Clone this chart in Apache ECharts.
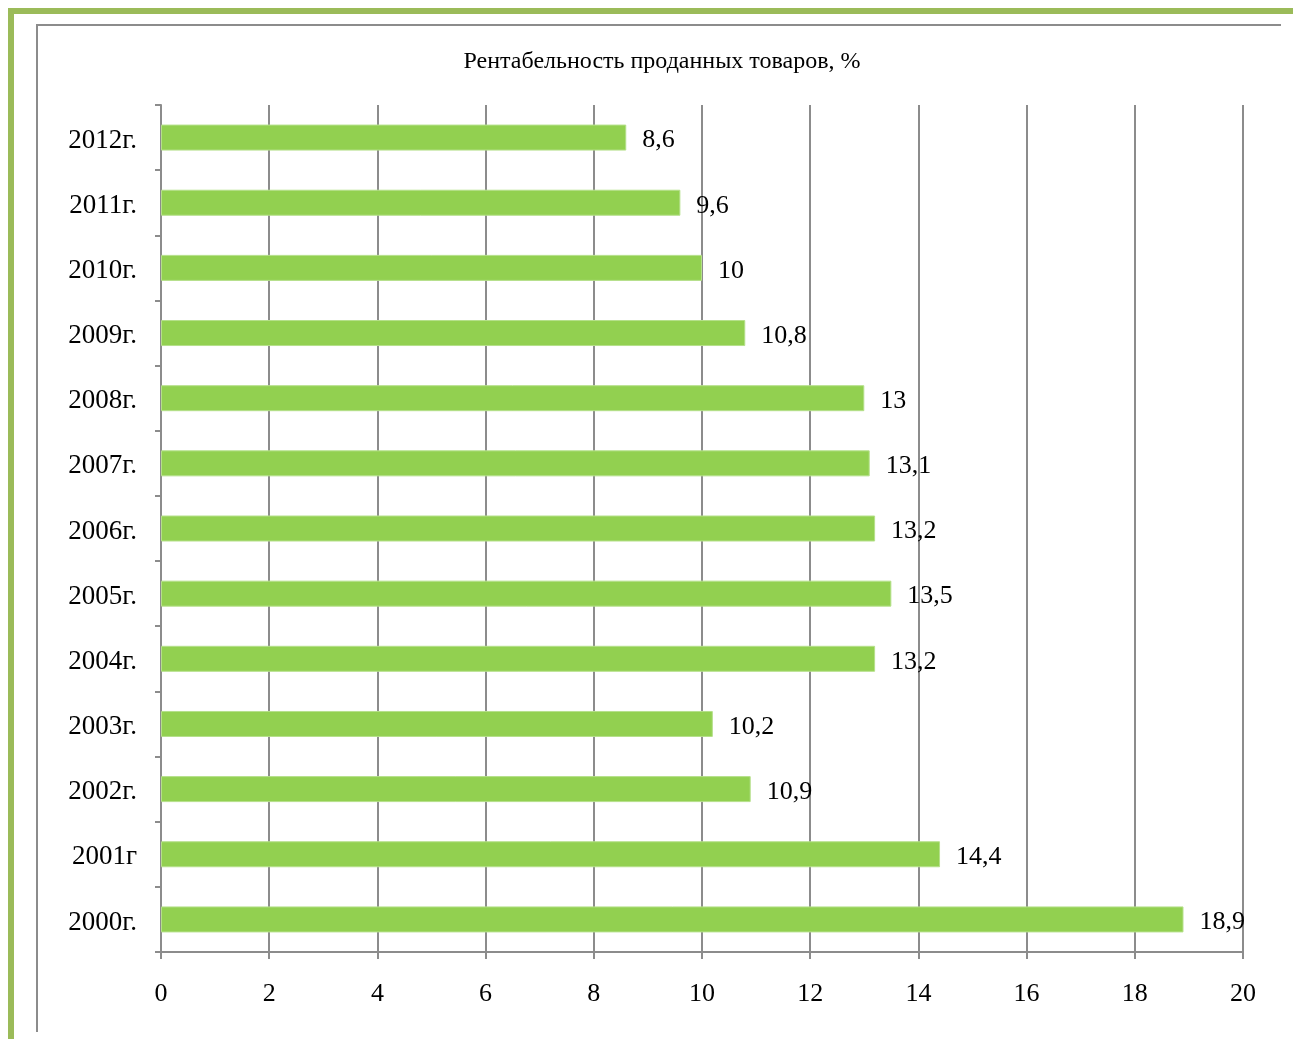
<!DOCTYPE html>
<html>
<head>
<meta charset="utf-8">
<script src="https://cdn.jsdelivr.net/npm/echarts@6/dist/echarts.min.js"></script>
<style>
  html, body { margin: 0; padding: 0; background: #fff; }
  #chart { width: 1293px; height: 1039px; }
</style>
</head>
<body>
<div id="chart"></div>
<script>
const categories = ['2000г.', '2001г', '2002г.', '2003г.', '2004г.', '2005г.', '2006г.',
  '2007г.', '2008г.', '2009г.', '2010г.', '2011г.', '2012г.'];
const values = [18.9, 14.4, 10.9, 10.2, 13.2, 13.5, 13.2, 13.1, 13, 10.8, 10, 9.6, 8.6];
const xTicks = [0, 2, 4, 6, 8, 10, 12, 14, 16, 18, 20];

const chart = echarts.init(document.getElementById('chart'));
const serif = '"Liberation Serif", "DejaVu Serif", serif';
const gray = '#8c8c8c';

const option = {
  animation: false,
  textStyle: { fontFamily: serif },
  title: {
    text: 'Рентабельность проданных товаров, %',
    left: 657,
    top: 45,
    textAlign: 'center',
    textStyle: { fontFamily: serif, fontSize: 24, fontWeight: 'normal', color: '#000' }
  },
  // page frame (green) and chart area border (gray)
  graphic: [
    { type: 'rect', shape: { x: 11, y: 11, width: 1300, height: 1100 },
      style: { fill: null, stroke: '#9bbb59', lineWidth: 6 } },
    { type: 'polyline', shape: { points: [[37, 1032], [37, 25], [1281, 25]] },
      style: { fill: null, stroke: gray, lineWidth: 2 } }
  ],
  grid: { left: 161, right: 50, top: 105, bottom: 87, containLabel: false },
  xAxis: {
    type: 'value',
    min: 0,
    max: 20,
    interval: 2,
    axisLine: { show: true, lineStyle: { color: gray, width: 2 } },
    axisTick: { show: true, length: 7, lineStyle: { color: gray, width: 2 } },
    splitLine: { show: true, lineStyle: { color: gray, width: 2 } },
    axisLabel: {
      margin: 29, fontSize: 26, color: '#000', fontFamily: serif,
      formatter: v => xTicks.includes(v) ? String(v) : ''
    }
  },
  yAxis: {
    type: 'category',
    data: categories,
    axisLine: { show: true, lineStyle: { color: gray, width: 2 } },
    axisTick: { show: true, length: 6, lineStyle: { color: gray, width: 2 } },
    axisLabel: {
      margin: 24, color: '#000', fontFamily: serif,
      formatter: v => '{c|' + v + '}',
      rich: { c: { fontSize: 27, fontFamily: serif, color: '#000', padding: [6, 0, 0, 0] } }
    }
  },
  series: [{
    type: 'bar',
    data: values,
    barWidth: 26,
    itemStyle: { color: '#92d050', borderColor: '#b5e08a', borderWidth: 1 },
    label: {
      show: true,
      position: 'right',
      distance: 16,
      offset: [0, 3],
      fontSize: 26,
      color: '#000',
      fontFamily: serif,
      formatter: p => String(p.value).replace('.', ',')
    }
  }]
};

chart.setOption(option);
window.addEventListener('resize', () => chart.resize());
</script>
</body>
</html>
